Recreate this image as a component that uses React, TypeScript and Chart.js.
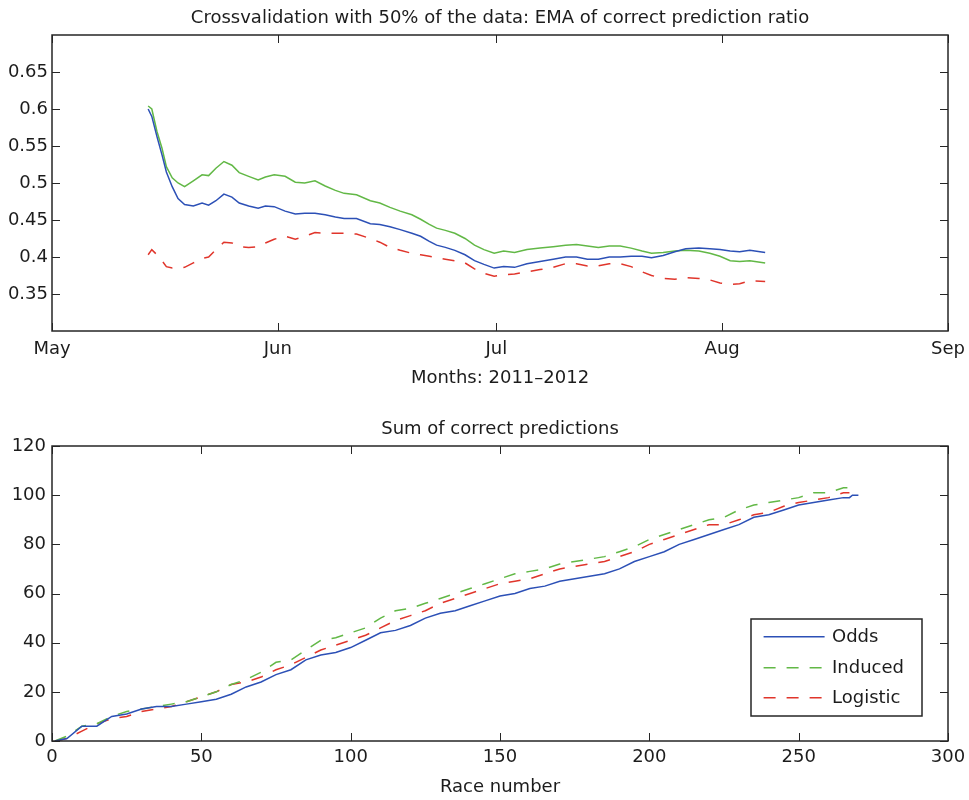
import React, { useEffect, useRef } from 'react';
import { Chart, registerables } from 'chart.js';

Chart.register(...registerables);

const FONT = '"DejaVu Sans", "Liberation Sans", sans-serif';
const TEXT = '#1c1c1c';
const BLUE = '#2c50b6';
const GREEN = '#62b846';
const RED = '#e0352b';

// ---------- Top chart: EMA of correct prediction ratio ----------
// x = days since May 1
const EMA_DAYS = [13.2, 13.7, 14.4, 15.1, 15.7, 16.5, 17.3, 18.2, 19.4, 20.6, 21.5, 22.5, 23.6, 24.7, 25.7, 27, 28.3, 29.3, 30.5, 32, 33.4, 34.7, 36.1, 37.5, 38.9, 40.1, 41.8, 43.7, 45, 46.4, 47.8, 49.4, 50.6, 51.8, 52.8, 54, 55.3, 56.7, 58, 59.3, 60.7, 62, 63.5, 65.2, 67, 68.8, 70.5, 72, 73.5, 75, 76.5, 78, 79.5, 81, 82.3, 83.9, 85.5, 87, 88.8, 90.3, 91.7, 93.1, 94.4, 95.8, 97.9];
const EMA_ODDS = [0.600, 0.590, 0.563, 0.538, 0.515, 0.495, 0.479, 0.471, 0.469, 0.473, 0.470, 0.476, 0.485, 0.481, 0.473, 0.469, 0.466, 0.469, 0.468, 0.462, 0.458, 0.459, 0.459, 0.457, 0.454, 0.452, 0.452, 0.445, 0.444, 0.441, 0.437, 0.432, 0.428, 0.421, 0.416, 0.413, 0.409, 0.403, 0.395, 0.390, 0.385, 0.387, 0.386, 0.391, 0.394, 0.397, 0.400, 0.400, 0.397, 0.397, 0.400, 0.400, 0.401, 0.401, 0.399, 0.402, 0.407, 0.411, 0.412, 0.411, 0.410, 0.408, 0.407, 0.409, 0.406];
const EMA_INDUCED = [0.604, 0.600, 0.570, 0.547, 0.522, 0.507, 0.500, 0.495, 0.503, 0.511, 0.510, 0.520, 0.529, 0.524, 0.514, 0.509, 0.504, 0.508, 0.511, 0.509, 0.501, 0.500, 0.503, 0.496, 0.490, 0.486, 0.484, 0.476, 0.473, 0.467, 0.462, 0.457, 0.451, 0.444, 0.439, 0.436, 0.432, 0.425, 0.416, 0.410, 0.405, 0.408, 0.406, 0.410, 0.412, 0.414, 0.416, 0.417, 0.415, 0.413, 0.415, 0.415, 0.412, 0.408, 0.405, 0.406, 0.408, 0.409, 0.408, 0.405, 0.401, 0.395, 0.394, 0.395, 0.392];
const EMA_LOGISTIC = [0.403, 0.410, 0.403, 0.395, 0.387, 0.385, 0.385, 0.386, 0.392, 0.398, 0.400, 0.410, 0.420, 0.419, 0.414, 0.413, 0.414, 0.419, 0.424, 0.428, 0.424, 0.428, 0.433, 0.432, 0.432, 0.432, 0.431, 0.425, 0.420, 0.413, 0.409, 0.405, 0.403, 0.401, 0.399, 0.397, 0.395, 0.392, 0.384, 0.378, 0.374, 0.376, 0.377, 0.380, 0.383, 0.386, 0.391, 0.391, 0.388, 0.388, 0.391, 0.391, 0.387, 0.380, 0.375, 0.371, 0.370, 0.372, 0.371, 0.369, 0.365, 0.363, 0.364, 0.368, 0.367];
const MONTH_TICKS = [0, 31, 61, 92, 123];
const MONTH_LABELS = ['May', 'Jun', 'Jul', 'Aug', 'Sep'];
const EMA_Y_TICKS = [0.35, 0.4, 0.45, 0.5, 0.55, 0.6, 0.65];
const EMA_Y_RANGE = [0.3, 0.7];

// ---------- Bottom chart: sum of correct predictions ----------
const RACES = [1, 5, 10, 15, 20, 25, 30, 35, 40, 45, 50, 55, 60, 65, 70, 75, 80, 85, 90, 95, 100, 105, 110, 115, 120, 125, 130, 135, 140, 145, 150, 155, 160, 165, 170, 175, 180, 185, 190, 195, 200, 205, 210, 215, 220, 225, 230, 235, 240, 245, 250, 255, 260, 265, 267, 268, 270];
const SUM_ODDS = [0, 1, 6, 6, 10, 11, 13, 14, 14, 15, 16, 17, 19, 22, 24, 27, 29, 33, 35, 36, 38, 41, 44, 45, 47, 50, 52, 53, 55, 57, 59, 60, 62, 63, 65, 66, 67, 68, 70, 73, 75, 77, 80, 82, 84, 86, 88, 91, 92, 94, 96, 97, 98, 99, 99, 100, 100];
const SUM_INDUCED = [0, 2, 6, 7, 10, 12, 13, 14, 15, 16, 18, 20, 23, 25, 28, 32, 33, 37, 41, 42, 44, 46, 50, 53, 54, 56, 58, 60, 62, 64, 66, 68, 69, 70, 72, 73, 74, 75, 77, 79, 82, 84, 86, 88, 90, 91, 94, 96, 97, 98, 99, 101, 101, 103, 103, 104, null];
const SUM_LOGISTIC = [0, 1, 4, 7, 9, 10, 12, 13, 14, 16, 18, 20, 23, 24, 26, 29, 31, 34, 37, 39, 41, 43, 46, 49, 51, 53, 56, 58, 60, 62, 64, 65, 66, 68, 70, 71, 72, 73, 75, 77, 80, 82, 84, 86, 88, 88, 90, 92, 93, 95.5, 97, 98, 99, 101, 101, null, null];
const RACE_TICKS = [0, 50, 100, 150, 200, 250, 300];
const SUM_TICKS = [0, 20, 40, 60, 80, 100, 120];
const SERIES_NAMES = ['Odds', 'Induced', 'Logistic'];

const DASH = [12, 11];

const framePlugin = {
  id: 'matlabFrame',
  afterDatasetsDraw(chart: any) {
    const { ctx, chartArea: a, scales } = chart;
    const L = 8;
    ctx.save();
    ctx.strokeStyle = '#262626';
    ctx.lineWidth = 1;
    ctx.beginPath();
    scales.x.ticks.forEach((t: any) => {
      const px = Math.round(scales.x.getPixelForValue(t.value)) + 0.5;
      ctx.moveTo(px, a.bottom);
      ctx.lineTo(px, a.bottom - L);
      ctx.moveTo(px, a.top);
      ctx.lineTo(px, a.top + L);
    });
    scales.y.ticks.forEach((t: any) => {
      const py = Math.round(scales.y.getPixelForValue(t.value)) + 0.5;
      ctx.moveTo(a.left, py);
      ctx.lineTo(a.left + L, py);
      ctx.moveTo(a.right, py);
      ctx.lineTo(a.right - L, py);
    });
    ctx.stroke();
    ctx.lineWidth = 1.5;
    ctx.strokeRect(a.left, a.top, a.right - a.left, a.bottom - a.top);
    ctx.restore();
  },
};

const boxLegendPlugin = {
  id: 'boxLegend',
  afterDraw(chart: any, _args: any, opts: any) {
    if (!opts || !opts.enabled) return;
    const { ctx, chartArea: a } = chart;
    const w = 171;
    const h = 97;
    const left = a.right - 26 - w;
    const top = a.bottom - 25 - h;
    ctx.save();
    ctx.fillStyle = '#ffffff';
    ctx.fillRect(left, top, w, h);
    ctx.strokeStyle = '#262626';
    ctx.lineWidth = 1.5;
    ctx.strokeRect(left, top, w, h);
    const rows = [17.7, 48.7, 78.7];
    chart.data.datasets.forEach((ds: any, i: number) => {
      const y = top + rows[i];
      ctx.beginPath();
      ctx.strokeStyle = ds.borderColor;
      ctx.lineWidth = 1.5;
      ctx.setLineDash(ds.borderDash || []);
      ctx.moveTo(left + 12.6, y);
      ctx.lineTo(left + 73.6, y);
      ctx.stroke();
      ctx.setLineDash([]);
      ctx.fillStyle = TEXT;
      ctx.font = `18px ${FONT}`;
      ctx.textBaseline = 'middle';
      ctx.textAlign = 'left';
      ctx.fillText(ds.label, left + 81, y + 1);
    });
    ctx.restore();
  },
};

function fmt(v: number) {
  return String(Math.round(v * 1000) / 1000);
}

function makeOptions(cfg: any) {
  const font = { family: FONT, size: 18, weight: 'normal' as const };
  return {
    responsive: false,
    animation: false as const,
    layout: { padding: { left: 0, right: 21, top: 0, bottom: 0 } },
    plugins: {
      legend: { display: false },
      tooltip: { enabled: false },
      title: {
        display: true,
        fullSize: false,
        text: cfg.title,
        color: TEXT,
        font,
        padding: cfg.titlePadding,
      },
      boxLegend: { enabled: cfg.legend },
    },
    elements: { point: { radius: 0 }, line: { tension: 0 } },
    scales: {
      x: {
        type: 'linear',
        min: cfg.xRange[0],
        max: cfg.xRange[1],
        grid: { display: false, drawTicks: false },
        border: { display: false },
        ticks: {
          color: TEXT,
          font,
          padding: cfg.xTickPad,
          maxRotation: 0,
          autoSkip: false,
          callback: cfg.xLabel,
        },
        title: {
          display: true,
          text: cfg.xTitle,
          color: TEXT,
          font,
          padding: { top: 0, bottom: cfg.xTitleBottom },
        },
        afterBuildTicks: (s: any) => {
          s.ticks = cfg.xTicks.map((v: number) => ({ value: v }));
        },
        afterFit: (s: any) => {
          s.height = cfg.xHeight;
          s.paddingLeft = 0;
          s.paddingRight = 0;
        },
      },
      y: {
        type: 'linear',
        min: cfg.yRange[0],
        max: cfg.yRange[1],
        grid: { display: false, drawTicks: false },
        border: { display: false },
        ticks: {
          color: TEXT,
          font,
          padding: cfg.yTickPad,
          autoSkip: false,
          callback: (v: number) => fmt(v),
        },
        afterBuildTicks: (s: any) => {
          s.ticks = cfg.yTicks.map((v: number) => ({ value: v }));
        },
        afterFit: (s: any) => {
          s.width = 52;
          s.paddingTop = 0;
          s.paddingBottom = 0;
        },
      },
    },
  };
}

function line(label: string, xs: number[], ys: (number | null)[], color: string, dash: number[] | null) {
  return {
    label,
    data: xs.map((x, i) => ({ x, y: ys[i] })),
    borderColor: color,
    backgroundColor: color,
    borderWidth: 1.5,
    borderDash: dash || [],
    pointRadius: 0,
    fill: false,
    spanGaps: false,
  };
}

export default function App() {
  const topRef = useRef<HTMLCanvasElement | null>(null);
  const botRef = useRef<HTMLCanvasElement | null>(null);

  useEffect(() => {
    document.body.style.margin = '0';
    const top = new Chart(topRef.current as HTMLCanvasElement, {
      type: 'line',
      data: {
        datasets: [
          line(SERIES_NAMES[0], EMA_DAYS, EMA_ODDS, BLUE, null),
          line(SERIES_NAMES[1], EMA_DAYS, EMA_INDUCED, GREEN, null),
          line(SERIES_NAMES[2], EMA_DAYS, EMA_LOGISTIC, RED, DASH),
        ],
      },
      options: makeOptions({
        title: 'Crossvalidation with 50% of the data: EMA of correct prediction ratio',
        titlePadding: { top: 8, bottom: 5.4 },
        xRange: [MONTH_TICKS[0], MONTH_TICKS[MONTH_TICKS.length - 1]],
        yRange: EMA_Y_RANGE,
        xTicks: MONTH_TICKS,
        yTicks: EMA_Y_TICKS,
        xLabel: (v: number) => {
          const i = MONTH_TICKS.indexOf(v);
          return i >= 0 ? MONTH_LABELS[i] : '';
        },
        xTitle: 'Months: 2011\u20132012',
        xTitleBottom: 11,
        xHeight: 69,
        xTickPad: 8,
        yTickPad: 4,
        legend: false,
      }) as any,
      plugins: [framePlugin, boxLegendPlugin],
    });
    const bot = new Chart(botRef.current as HTMLCanvasElement, {
      type: 'line',
      data: {
        datasets: [
          line(SERIES_NAMES[0], RACES, SUM_ODDS, BLUE, null),
          line(SERIES_NAMES[1], RACES, SUM_INDUCED, GREEN, DASH),
          line(SERIES_NAMES[2], RACES, SUM_LOGISTIC, RED, DASH),
        ],
      },
      options: makeOptions({
        title: 'Sum of correct predictions',
        titlePadding: { top: 19, bottom: 5.4 },
        xRange: [RACE_TICKS[0], RACE_TICKS[RACE_TICKS.length - 1]],
        yRange: [SUM_TICKS[0], SUM_TICKS[SUM_TICKS.length - 1]],
        xTicks: RACE_TICKS,
        yTicks: SUM_TICKS,
        xLabel: (v: number) => String(v),
        xTitle: 'Race number',
        xTitleBottom: 2,
        xHeight: 59,
        xTickPad: 5.5,
        yTickPad: 6,
        legend: true,
      }) as any,
      plugins: [framePlugin, boxLegendPlugin],
    });
    return () => {
      top.destroy();
      bot.destroy();
    };
  }, []);

  return (
    <div style={{ width: 969, background: '#fff' }}>
      <canvas ref={topRef} width={969} height={400} style={{ display: 'block' }} />
      <canvas ref={botRef} width={969} height={400} style={{ display: 'block' }} />
    </div>
  );
}
